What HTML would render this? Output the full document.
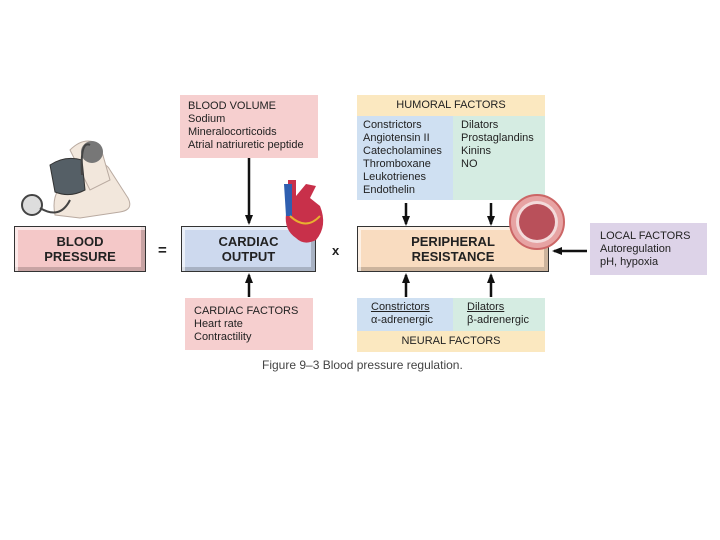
<!DOCTYPE html>
<html><head><style>
body{margin:0;width:720px;height:540px;background:#fff;position:relative;overflow:hidden;font-family:"Liberation Sans",Arial,sans-serif;color:#222}
.a{position:absolute}
.t{font-size:11px;line-height:13px}
.bev{box-sizing:border-box;border:1px solid #333;text-align:center;font-weight:bold;font-size:13px;line-height:15px;display:flex;align-items:center;justify-content:center;box-shadow:inset 3px 3px 0 rgba(255,255,255,.6),inset -4px -4px 0 rgba(0,0,0,.18)}
</style></head><body>
<svg class="a" style="left:10px;top:120px" width="130" height="105">
<path d="M45 95 Q40 70 60 60 L80 45 Q95 40 100 50 L118 78 Q124 90 110 92 L70 98 Z" fill="#f2e7dc" stroke="#b9aaa0"/>
<path d="M60 30 Q75 15 90 25 L100 60 L80 70 Z" fill="#f2e7dc" stroke="#b9aaa0"/>
<path d="M40 45 Q55 35 72 40 L75 70 Q60 78 45 72 Z" fill="#555f66" stroke="#333"/>
<circle cx="82" cy="32" r="11" fill="#777"/>
<circle cx="22" cy="85" r="10" fill="#ddd" stroke="#444" stroke-width="2"/>
<path d="M30 88 Q50 100 60 80 M72 55 Q70 20 80 25" stroke="#444" fill="none" stroke-width="2"/>
</svg>
<div class="a t" style="left:180px;top:95px;width:138px;height:63px;background:#f6cfcf;box-sizing:border-box;padding:5px 0 0 8px">BLOOD VOLUME<br>Sodium<br>Mineralocorticoids<br>Atrial natriuretic peptide</div>
<div class="a bev" style="left:14px;top:226px;width:132px;height:46px;background:#f4c8c8">BLOOD<br>PRESSURE</div>
<div class="a" style="left:158px;top:242px;font-weight:bold;font-size:15px">=</div>
<div class="a bev" style="left:181px;top:226px;width:135px;height:46px;background:#cdd9ee">CARDIAC<br>OUTPUT</div>
<div class="a" style="left:332px;top:243px;font-weight:bold;font-size:13px">x</div>
<svg class="a" style="left:276px;top:176px" width="54" height="70">
<path d="M12 4 L20 4 L20 20 L30 8 L40 10 L34 22 L44 30 Q52 50 40 64 Q28 70 20 62 Q8 54 10 38 L12 20 Z" fill="#c8304a"/>
<path d="M8 8 L16 8 L16 40 L10 40 Z" fill="#2f5fb0"/>
<path d="M14 40 Q30 55 44 40" stroke="#e8b030" fill="none" stroke-width="2"/>
</svg>
<div class="a t" style="left:357px;top:95px;width:188px;height:21px;background:#fbe8c0;text-align:center;line-height:21px">HUMORAL FACTORS</div>
<div class="a t" style="left:357px;top:116px;width:96px;height:84px;background:#cfe0f2;box-sizing:border-box;padding:3px 0 0 6px">Constrictors<br>Angiotensin II<br>Catecholamines<br>Thromboxane<br>Leukotrienes<br>Endothelin</div>
<div class="a t" style="left:453px;top:116px;width:92px;height:84px;background:#d5ece2;box-sizing:border-box;padding:3px 0 0 8px">Dilators<br>Prostaglandins<br>Kinins<br>NO</div>
<div class="a bev" style="left:357px;top:226px;width:192px;height:46px;background:#f9dcc0">PERIPHERAL<br>RESISTANCE</div>
<svg class="a" style="left:505px;top:190px" width="66" height="66"><circle cx="32" cy="32" r="27" fill="#e7a3a3" stroke="#c66" stroke-width="2"/><circle cx="32" cy="32" r="21" fill="#f3dada"/><circle cx="32" cy="32" r="18" fill="#b9505a"/></svg>
<div class="a t" style="left:590px;top:223px;width:117px;height:52px;background:#ddd3e8;box-sizing:border-box;padding:7px 0 0 10px">LOCAL FACTORS<br>Autoregulation<br>pH, hypoxia</div>
<div class="a t" style="left:185px;top:298px;width:128px;height:52px;background:#f6cfcf;box-sizing:border-box;padding:7px 0 0 9px">CARDIAC FACTORS<br>Heart rate<br>Contractility</div>
<div class="a t" style="left:357px;top:298px;width:96px;height:33px;background:#cfe0f2;box-sizing:border-box;padding:3px 0 0 14px"><u>Constrictors</u><br>α-adrenergic</div>
<div class="a t" style="left:453px;top:298px;width:92px;height:33px;background:#d5ece2;box-sizing:border-box;padding:3px 0 0 14px"><u>Dilators</u><br>β-adrenergic</div>
<div class="a t" style="left:357px;top:331px;width:188px;height:21px;background:#fbe8c0;text-align:center;line-height:21px">NEURAL FACTORS</div>
<div class="a" style="left:262px;top:358px;font-size:12px;color:#444">Figure 9–3  Blood pressure regulation.</div>
<svg class="a" style="left:0;top:0" width="720" height="540">
<defs><marker id="m" markerWidth="10" markerHeight="10" refX="8" refY="5" orient="auto" markerUnits="userSpaceOnUse" viewBox="0 0 10 10"><path d="M0 1 L10 5 L0 9 Z" fill="#111"/></marker></defs>
<g stroke="#111" stroke-width="2.5" marker-end="url(#m)">
<line x1="249" y1="158" x2="249" y2="223"/>
<line x1="406" y1="203" x2="406" y2="224"/>
<line x1="491" y1="203" x2="491" y2="224"/>
<line x1="249" y1="297" x2="249" y2="275"/>
<line x1="406" y1="297" x2="406" y2="275"/>
<line x1="491" y1="297" x2="491" y2="275"/>
<line x1="587" y1="251" x2="554" y2="251"/>
</g></svg>
</body></html>
